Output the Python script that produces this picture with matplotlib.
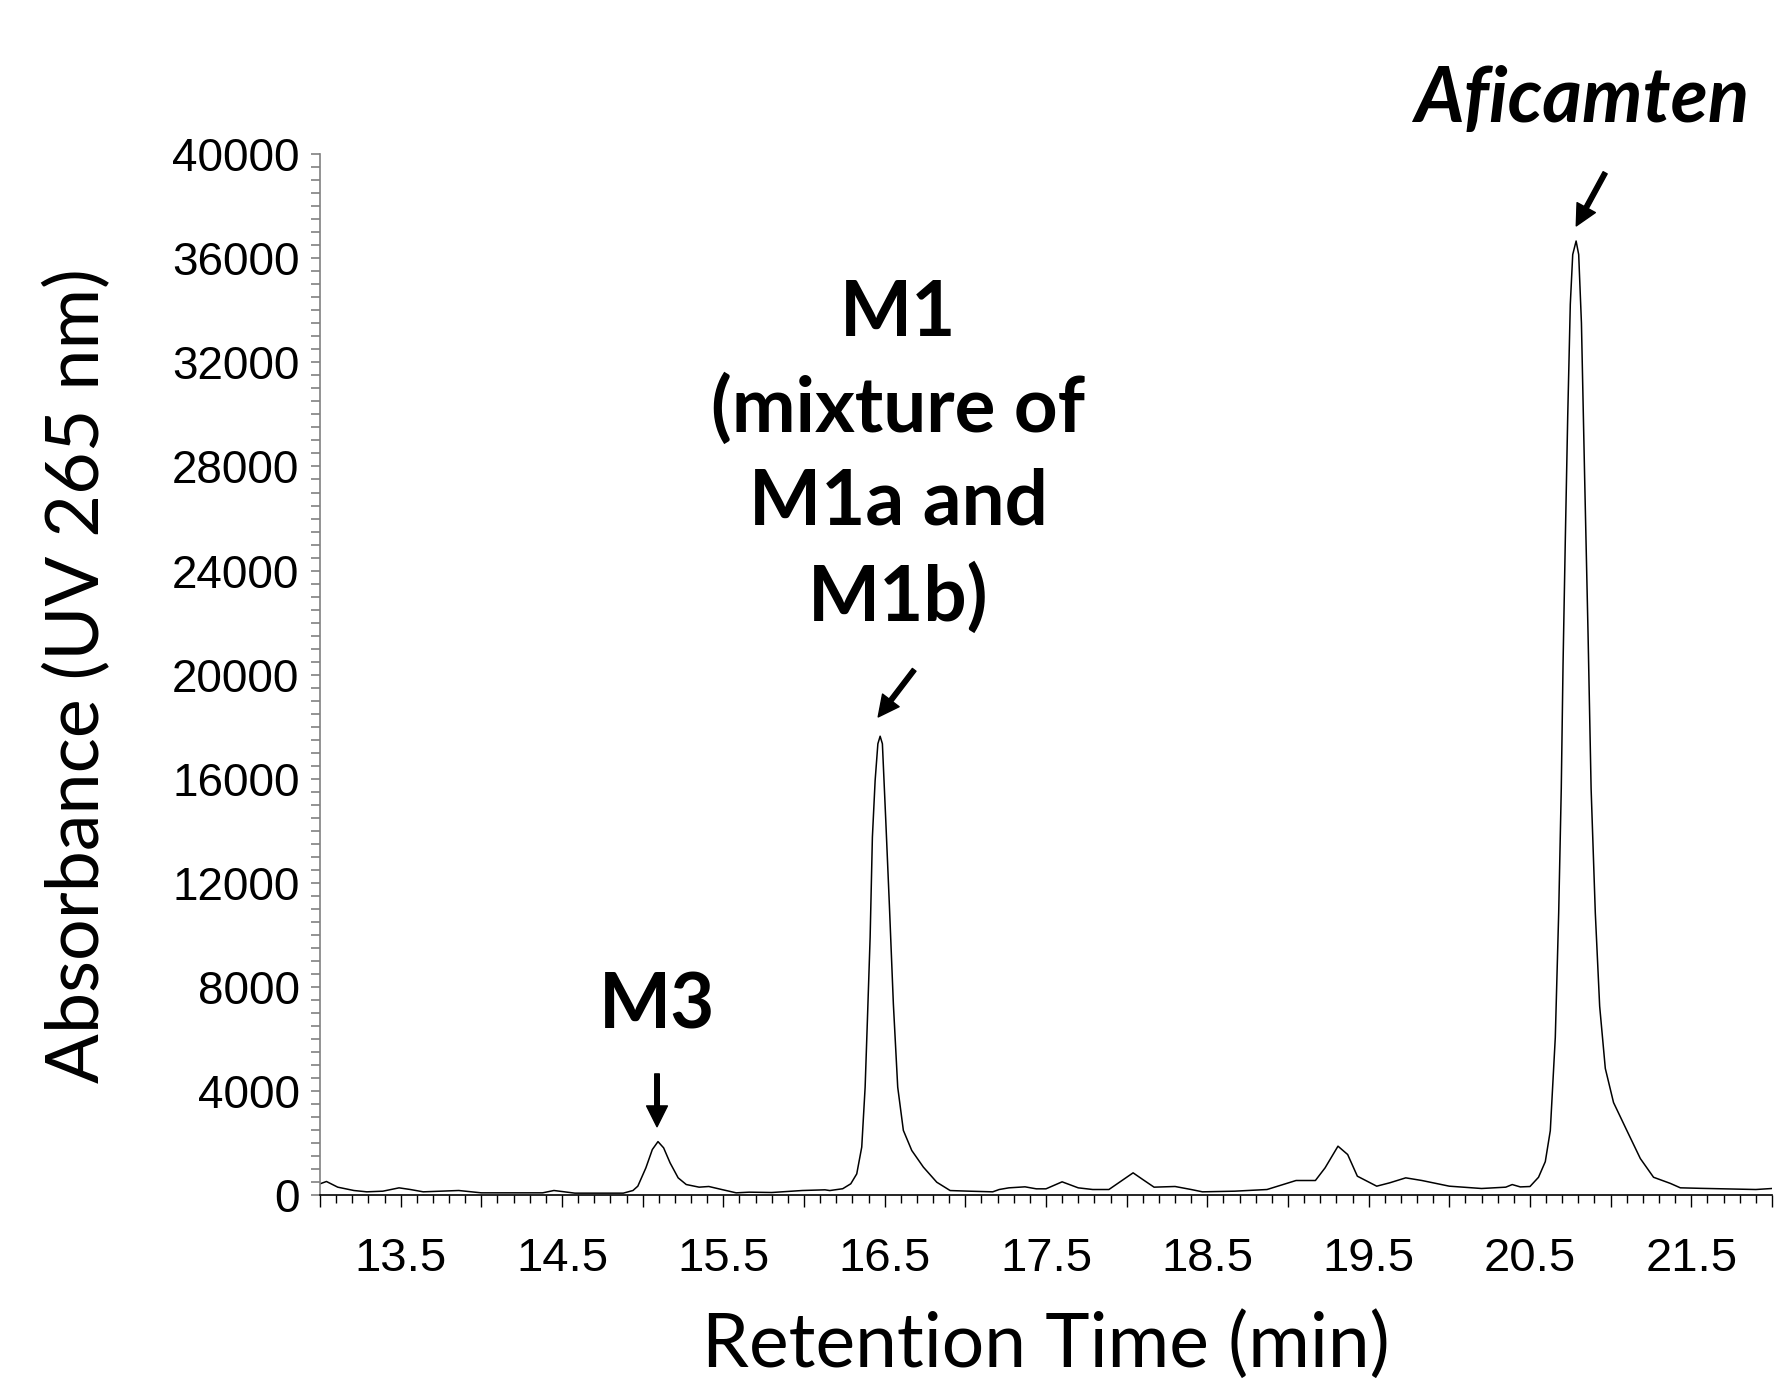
import matplotlib
matplotlib.use("Agg")
import matplotlib.pyplot as plt
from matplotlib.ticker import MultipleLocator, FuncFormatter

# chromatogram trace (retention time in min, UV 265 nm absorbance)
time_min = [
    13.00, 13.04, 13.11, 13.21, 13.29, 13.39, 13.49, 13.56, 13.64, 13.86,
    14.00, 14.38, 14.45, 14.58, 14.88, 14.94, 14.97, 15.02, 15.06, 15.095,
    15.13, 15.17, 15.22, 15.27, 15.35, 15.41, 15.49, 15.58, 15.66, 15.80,
    15.99, 16.13, 16.16, 16.24, 16.29, 16.327, 16.358, 16.379, 16.393, 16.410,
    16.424, 16.441, 16.458, 16.472, 16.486, 16.507, 16.529, 16.554, 16.581, 16.616,
    16.668, 16.740, 16.823, 16.906, 17.03, 17.17, 17.21, 17.27, 17.37, 17.44,
    17.50, 17.60, 17.70, 17.79, 17.89, 17.95, 18.04, 18.10, 18.17, 18.30,
    18.40, 18.47, 18.67, 18.87, 18.97, 19.05, 19.17, 19.23, 19.31, 19.37,
    19.43, 19.55, 19.63, 19.73, 19.83, 20.00, 20.20, 20.35, 20.39, 20.44,
    20.50, 20.553, 20.595, 20.626, 20.657, 20.678, 20.694, 20.705, 20.719, 20.734,
    20.750, 20.765, 20.786, 20.802, 20.819, 20.839, 20.860, 20.879, 20.905, 20.932,
    20.967, 21.018, 21.101, 21.184, 21.266, 21.370, 21.432, 21.556, 21.90, 22.00,
]
absorbance = [
    448, 538, 320, 192, 141, 166, 294, 230, 141, 192,
    102, 102, 192, 90, 90, 192, 358, 1062, 1766, 2070,
    1830, 1254, 678, 422, 320, 346, 230, 102, 128, 115,
    192, 218, 190, 260, 450, 830, 1860, 4160, 6720, 9920,
    13760, 15940, 17350, 17640, 17350, 14400, 11200, 7360, 4160, 2500,
    1730, 1090, 510, 190, 165, 141, 230, 294, 333, 256,
    256, 525, 294, 230, 230, 486, 870, 614, 320, 346,
    230, 141, 166, 230, 422, 576, 576, 1062, 1894, 1574,
    742, 358, 486, 678, 576, 358, 269, 320, 420, 330,
    345, 700, 1300, 2490, 6070, 10850, 15620, 20390, 25160, 29930,
    34230, 36140, 36660, 36140, 33510, 27550, 21580, 15620, 10850, 7270,
    4880, 3570, 2490, 1420, 700, 465, 295, 275, 230, 269,
]

# peak labels: (text, text position, arrow tail, arrow tip) in data units
peak_labels = ["M3", "M1\n(mixture of\nM1a and\nM1b)", "Aficamten"]
label_xy = [(15.089, 7240), (16.583, 28390), (20.818, 42090)]
arrow_tail = [(15.089, 4670), (16.683, 20190), (20.966, 39280)]
arrow_tip = [(15.089, 2640), (16.460, 18380), (20.787, 37240)]
label_style = ["normal", "normal", "italic"]

fig = plt.figure(figsize=(17.91, 13.84), dpi=100)
ax = fig.add_axes([0.17867, 0.1362, 0.8107, 0.7525])

ax.plot(time_min, absorbance, color="black", lw=1.1)

ax.set_xlim(13, 22)
ax.set_ylim(0, 40000)

for side in ["top", "right"]:
    ax.spines[side].set_visible(False)
ax.spines["left"].set_color("#808080")
ax.spines["left"].set_linewidth(1.2)
ax.spines["bottom"].set_color("black")
ax.spines["bottom"].set_linewidth(1.2)

# x ticks: tall every 0.5, short every 0.1, labels only at x.5
ax.xaxis.set_major_locator(MultipleLocator(0.5))
ax.xaxis.set_minor_locator(MultipleLocator(0.1))
ax.xaxis.set_major_formatter(FuncFormatter(lambda v, p: "" if abs(v - round(v)) < 1e-6 else f"{v:.1f}"))
ax.tick_params(axis="x", which="major", direction="out", length=8.6, width=1.0,
               color="black", pad=21, labelsize=34)
ax.tick_params(axis="x", which="minor", direction="out", length=5.5, width=1.0, color="black")

# y ticks: labels every 4000, small ticks every 500
ax.yaxis.set_major_locator(MultipleLocator(4000))
ax.yaxis.set_minor_locator(MultipleLocator(500))
ax.tick_params(axis="y", which="both", direction="out", length=6.7, width=1.2,
               color="#808080", pad=8, labelsize=33)

for lab in ax.get_xticklabels() + ax.get_yticklabels():
    lab.set_fontfamily("Liberation Sans")

fig.text(0.0436, 0.5116, "Absorbance (UV 265 nm)", rotation=90, ha="center", va="center",
         fontsize=53, family="Lato")
fig.text(0.584, 0.028, "Retention Time (min)", ha="center", va="center",
         fontsize=54, family="Lato")

for text, xy, tail, tip, style in zip(peak_labels, label_xy, arrow_tail, arrow_tip, label_style):
    ax.text(xy[0], xy[1], text, ha="center", va="center", fontsize=55, family="Lato",
            fontweight="bold", fontstyle=style, linespacing=1.4, clip_on=False)
    ax.annotate("", xy=tip, xytext=tail, annotation_clip=False,
                arrowprops=dict(arrowstyle="simple,head_width=1.0,head_length=1.0,tail_width=0.22",
                                mutation_scale=15, color="black", shrinkA=0, shrinkB=0))

fig.savefig("out.png", dpi=100)
